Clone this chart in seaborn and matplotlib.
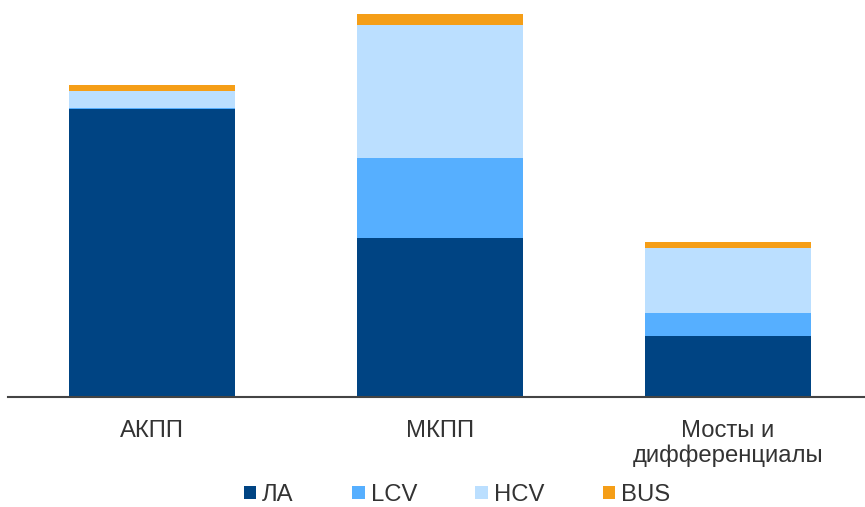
import matplotlib
matplotlib.use("Agg")
import matplotlib.pyplot as plt
from matplotlib.patches import Patch
import seaborn as sns
import pandas as pd
import numpy as np

categories = ["АКПП", "МКПП", "Мосты и\nдифференциалы"]
segments = ["ЛА", "LCV", "HCV", "BUS"]
la_values = [288.5, 159, 61.3]
lcv_values = [1, 80, 23]
hcv_values = [17, 133, 65]
bus_values = [6, 11, 5.7]
colors = ["#004483", "#56AFFF", "#BBDFFF", "#F59E17"]

sns.set_theme(style="white")
plt.rcParams["font.family"] = ["Liberation Sans", "DejaVu Sans"]

df = pd.DataFrame({"category": categories, "ЛА": la_values, "LCV": lcv_values,
                   "HCV": hcv_values, "BUS": bus_values})

fig = plt.figure(figsize=(8.65, 5.07), dpi=100)
ax = fig.add_axes([8 / 865, 110 / 507, 864 / 865, 397 / 507])

# stack by drawing cumulative totals, tallest layer first
cum = df[segments].cumsum(axis=1)
for seg, col in reversed(list(zip(segments, colors))):
    sns.barplot(x=df["category"], y=cum[seg], color=col, width=0.576,
                order=categories, ax=ax, saturation=1, linewidth=0)

ax.set_xlim(-0.5, 2.5)
ax.set_ylim(0, 397)
ax.set_xlabel("")
ax.set_ylabel("")
ax.set_yticks([])
ax.tick_params(axis="x", length=0, pad=16.5, labelsize=17.2, labelcolor="#333333")
for s in ["top", "right", "left"]:
    ax.spines[s].set_visible(False)
ax.spines["bottom"].set_color("#444444")
ax.spines["bottom"].set_linewidth(1.5)
for lbl in ax.get_xticklabels():
    lbl.set_linespacing(1.12)

handles = [Patch(facecolor=c, edgecolor="none", label=s) for s, c in zip(segments, colors)]
fig.legend(handles=handles, loc="center", bbox_to_anchor=(457 / 865, 1 - 495 / 507),
           ncol=4, frameon=False, fontsize=17.2, labelcolor="#333333",
           handlelength=0.52, handleheight=0.52, handletextpad=0.25,
           columnspacing=2.45, borderpad=0.1)

fig.savefig("out.png", dpi=100)
